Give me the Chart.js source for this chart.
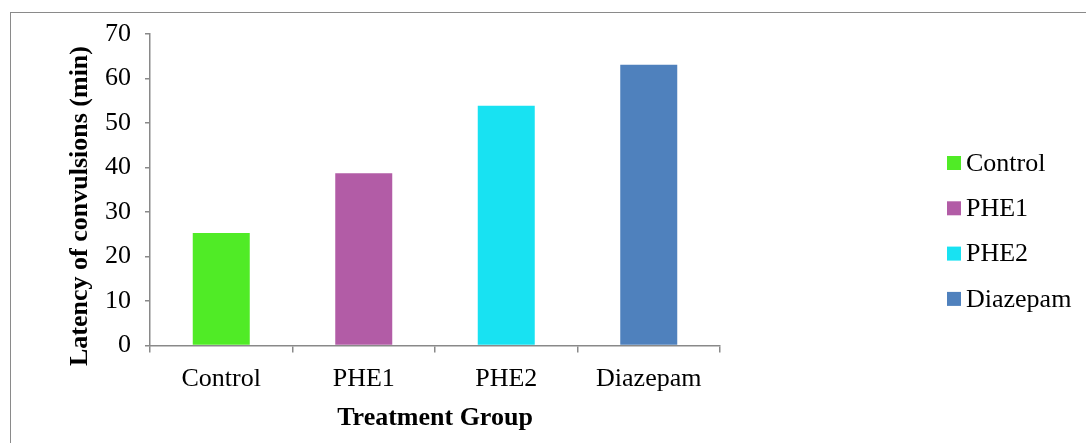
<!DOCTYPE html>
<html>
<head>
<meta charset="utf-8">
<script src="https://cdn.jsdelivr.net/npm/chart.js@4/dist/chart.umd.min.js"></script>
<style>
    html, body { margin: 0; padding: 0; background: #fff; }
    #wrap { position: relative; width: 1086px; height: 443px; overflow: hidden; }
    #frame {
        position: absolute; left: 10px; top: 12px; width: 1200px; height: 600px;
        border-top: 1.5px solid #8a8a8a; border-left: 1.5px solid #8a8a8a;
    }
    #latencyChart { position: absolute; left: 0; top: 0; }
</style>
</head>
<body>
<div id="wrap">
    <div id="frame"></div>
    <canvas id="latencyChart" width="1086" height="443"></canvas>
</div>
<script>
// البيانات
const groups = ['Control', 'PHE1', 'PHE2', 'Diazepam'];
const latency = [25.3, 38.7, 53.9, 63.1];
const barColors = ['#50EB26', '#B25CA6', '#18E2F2', '#4F81BD'];
const yTicks = [0, 10, 20, 30, 40, 50, 60, 70];

const axisGrey = '#898989';
const serif = "'Liberation Serif', 'Times New Roman', serif";

// وسيلة إيضاح مرسومة يدوياً على اليمين
const sideLegend = {
    id: 'sideLegend',
    afterDraw(chart) {
        const ctx = chart.ctx;
        const ds = chart.data.datasets[0];
        ctx.save();
        ctx.font = '26px ' + serif;
        ctx.textBaseline = 'middle';
        ctx.textAlign = 'left';
        chart.data.labels.forEach(function(label, i) {
            const cy = 163 + i * 45.3;
            ctx.fillStyle = ds.backgroundColor[i];
            ctx.fillRect(947, cy - 7, 14, 14);
            ctx.fillStyle = '#000';
            ctx.fillText(label, 966, cy + 1);
        });
        ctx.restore();
    }
};

new Chart(document.getElementById('latencyChart'), {
    type: 'bar',
    data: {
        labels: groups,
        datasets: [{
            label: 'Latency of convulsions (min)',
            data: latency,
            backgroundColor: barColors,
            borderWidth: 0,
            categoryPercentage: 1,
            barPercentage: 0.4
        }]
    },
    plugins: [sideLegend],
    options: {
        responsive: false,
        animation: false,
        layout: { padding: { top: 34, right: 366, bottom: 0, left: 0 } },
        plugins: {
            legend: { display: false },
            tooltip: { enabled: false }
        },
        scales: {
            x: {
                afterFit(scale) { scale.height = 443 - 345.5; },
                grid: {
                    offset: true,
                    drawOnChartArea: false,
                    drawTicks: true,
                    tickLength: 7,
                    color: axisGrey,
                    lineWidth: 1.5
                },
                border: { color: axisGrey, width: 1.5 },
                ticks: {
                    color: '#000',
                    padding: 11,
                    font: { family: serif, size: 26 }
                },
                title: {
                    display: true,
                    text: 'Treatment Group',
                    color: '#000',
                    padding: { top: 0, bottom: 9 },
                    font: { family: serif, size: 26, weight: 'bold' }
                }
            },
            y: {
                min: 0,
                max: 70,
                afterFit(scale) { scale.width = 150; },
                afterBuildTicks(scale) { scale.ticks = yTicks.map(v => ({ value: v })); },
                grid: {
                    drawOnChartArea: false,
                    drawTicks: true,
                    tickLength: 5,
                    color: axisGrey,
                    lineWidth: 1.5
                },
                border: { color: axisGrey, width: 1.5 },
                ticks: {
                    color: '#000',
                    padding: 14,
                    font: { family: serif, size: 26 }
                },
                title: {
                    display: true,
                    // مسافات في النهاية لإنزال العنوان قليلاً كما في الأصل
                    text: 'Latency of convulsions (min)\u00A0\u00A0\u00A0\u00A0\u00A0',
                    color: '#000',
                    padding: { top: 65, bottom: 0 },
                    font: { family: serif, size: 26, weight: 'bold' }
                }
            }
        }
    }
});
</script>
</body>
</html>
